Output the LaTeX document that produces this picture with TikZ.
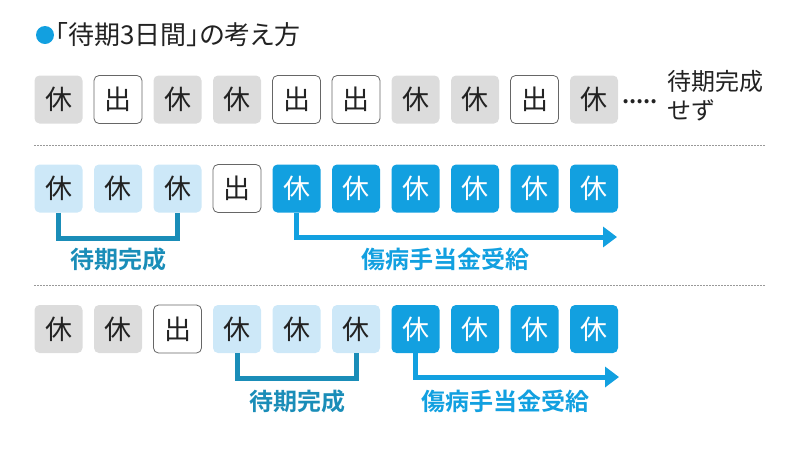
\documentclass[tikz,border=0pt]{standalone}
\usepackage{fontspec}
\setmainfont{Noto Sans CJK JP}
\newfontfamily\jpb{Noto Sans CJK JP Bold}
\newfontfamily\jppal[RawFeature=+palt]{Noto Sans CJK JP}
\usetikzlibrary{arrows.meta}
\definecolor{grayfill}{HTML}{DCDCDC}
\definecolor{lightblue}{HTML}{CDE8F8}
\definecolor{mainblue}{HTML}{12A0E0}
\definecolor{teal}{HTML}{1A8DB8}
\definecolor{textdark}{HTML}{222222}
\definecolor{dashgray}{HTML}{999999}
\tikzset{
  daybox/.style={minimum width=48pt, minimum height=48pt, rounded corners=5pt, inner sep=0pt, font=\fontsize{27}{27}\selectfont, text=textdark},
  restgray/.style={daybox, fill=grayfill},
  work/.style={daybox, fill=white, draw=gray!80!black, line width=0.8pt},
  restwait/.style={daybox, fill=lightblue},
  restpaid/.style={daybox, fill=mainblue, text=white},
  sep/.style={dashgray, line width=1pt, dash pattern=on 1.5pt off 1.5pt},
  bracket/.style={teal, line width=5pt},
  payarrow/.style={mainblue, line width=5pt, -{Triangle[length=14pt,width=20pt]}},
  lbl/.style={font=\jpb\fontsize{24}{24}\selectfont, inner sep=0pt},
}
\begin{document}
\begin{tikzpicture}[x=1pt,y=-1pt]
\useasboundingbox (0,0) rectangle (800,451);
% title
\fill[mainblue] (45,35) circle (9);
\node[anchor=west, inner sep=0pt, text=textdark, font=\jppal\fontsize{26}{26}\selectfont] (title) at (55,35) {「待期3日間」の考え方};
% row 1
\foreach \t/\s [count=\i from 0] in {休/restgray,出/work,休/restgray,休/restgray,出/work,出/work,休/restgray,休/restgray,出/work,休/restgray}{
  \node[\s] (a\i) at ({58.5+59.5*\i},99.5) {\t};
}
\node[anchor=base west, inner sep=0pt, text=textdark, font=\jpb\fontsize{22}{22}\selectfont] (dots) at (622,103) {.....};
\node[anchor=north west, inner sep=0pt, align=left, text=textdark, font=\fontsize{24}{29}\selectfont] (nocomp) at (667,70) {待期完成\\せず};
\draw[sep] (34,145) -- (766,145);
% row 2
\foreach \t/\s [count=\i from 0] in {休/restwait,休/restwait,休/restwait,出/work,休/restpaid,休/restpaid,休/restpaid,休/restpaid,休/restpaid,休/restpaid}{
  \node[\s] (b\i) at ({58.5+59.5*\i},188.5) {\t};
}
\coordinate (b0d) at (b0.center |- 0,238);
\coordinate (b2d) at (b2.center |- 0,238);
\draw[bracket] (b0.south) -- (b0d) -- (b2d) -- (b2.south);
\node[lbl, text=teal] (w2) at (118,259) {待期完成};
\coordinate (b4d) at (b4.center |- 0,237);
\coordinate (b9e) at (617,237);
\draw[payarrow] (b4.south) -- (b4d) -- (b9e);
\node[lbl, text=mainblue] (p2) at (445,259) {傷病手当金受給};
\draw[sep] (34,285) -- (766,285);
% row 3
\foreach \t/\s [count=\i from 0] in {休/restgray,休/restgray,出/work,休/restwait,休/restwait,休/restwait,休/restpaid,休/restpaid,休/restpaid,休/restpaid}{
  \node[\s] (c\i) at ({58.5+59.5*\i},329) {\t};
}
\coordinate (c3d) at (c3.center |- 0,378);
\coordinate (c5d) at (c5.center |- 0,378);
\draw[bracket] (c3.south) -- (c3d) -- (c5d) -- (c5.south);
\node[lbl, text=teal] (w3) at (297,401) {待期完成};
\coordinate (c6d) at (c6.center |- 0,377);
\coordinate (c9e) at (619,377);
\draw[payarrow] (c6.south) -- (c6d) -- (c9e);
\node[lbl, text=mainblue] (p3) at (505,401) {傷病手当金受給};
\end{tikzpicture}
\end{document}
